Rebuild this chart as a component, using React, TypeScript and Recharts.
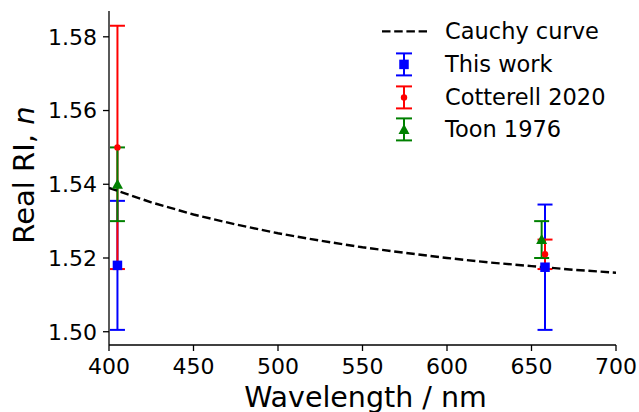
import React from 'react';
import { ComposedChart, Line, Scatter, ErrorBar, XAxis, YAxis, Legend, Label } from 'recharts';

const FONT = '"DejaVu Sans", Verdana, sans-serif';

// Cauchy curve
const cauchyWavelength = [400, 425, 450, 475, 500, 525, 550, 575, 600, 625, 650, 675, 700];
const cauchyN = [1.539, 1.5351, 1.5318, 1.5291, 1.5267, 1.5247, 1.5229, 1.5214, 1.52, 1.5188, 1.5178, 1.5168, 1.516];

// This work
const thisWorkWavelength = [405, 658];
const thisWorkN = [1.518, 1.5175];
const thisWorkErr = [0.0175, 0.017];

// Cotterell 2020
const cotterellWavelength = [405, 658];
const cotterellN = [1.55, 1.521];
const cotterellErr = [0.033, 0.004];

// Toon 1976
const toonWavelength = [405, 656];
const toonN = [1.54, 1.525];
const toonErr = [0.01, 0.005];

const xTicks = [400, 450, 500, 550, 600, 650, 700];
const yTicks = [1.5, 1.52, 1.54, 1.56, 1.58];
const xDomain = [400, 700];
const yDomain = [1.4964, 1.587];

const BLUE = '#0000ff';
const RED = '#ff0000';
const GREEN = '#008000';

const zip = (xs: number[], ys: number[], es?: number[]) =>
  xs.map((x, i) => (es ? { x, y: ys[i], err: es[i] } : { x, y: ys[i] }));

const cauchyData = zip(cauchyWavelength, cauchyN);
const thisWorkData = zip(thisWorkWavelength, thisWorkN, thisWorkErr);
const cotterellData = zip(cotterellWavelength, cotterellN, cotterellErr);
const toonData = zip(toonWavelength, toonN, toonErr);

const drawMarker = (kind: string, cx: number, cy: number) => {
  if (kind === 'square') {
    return <rect x={cx - 4.75} y={cy - 4.75} width={9.5} height={9.5} fill={BLUE} stroke="none" />;
  }
  if (kind === 'circle') {
    return <circle cx={cx} cy={cy} r={3.2} fill={RED} stroke="none" />;
  }
  return (
    <polygon
      points={`${cx},${cy - 5.5} ${cx - 5.5},${cy + 4.5} ${cx + 5.5},${cy + 4.5}`}
      fill={GREEN}
      stroke="none"
    />
  );
};

const SquareShape = (p: any) => drawMarker('square', p.cx, p.cy);
const CircleShape = (p: any) => drawMarker('circle', p.cx, p.cy);
const TriangleShape = (p: any) => drawMarker('triangle', p.cx, p.cy);

const legendItems = [
  { label: 'Cauchy curve', kind: 'line', color: '#000' },
  { label: 'This work', kind: 'square', color: BLUE },
  { label: 'Cotterell 2020', kind: 'circle', color: RED },
  { label: 'Toon 1976', kind: 'triangle', color: GREEN },
];

const renderLegend = () => (
  <div style={{ fontFamily: FONT, fontSize: 22.5, color: '#000' }}>
    {legendItems.map((it) => (
      <div key={it.label} style={{ display: 'flex', alignItems: 'center', height: 32.8 }}>
        <svg width={60} height={32.8} style={{ display: 'block' }}>
          {it.kind === 'line' ? (
            <line x1={7} y1={16.4} x2={52} y2={16.4} stroke="#000" strokeWidth={2.4} strokeDasharray="8.5 3.7" />
          ) : (
            <g stroke={it.color} strokeWidth={2}>
              <line x1={29} y1={5.4} x2={29} y2={27.4} />
              <line x1={21} y1={5.4} x2={37} y2={5.4} />
              <line x1={21} y1={27.4} x2={37} y2={27.4} />
              {drawMarker(it.kind, 29, 16.4)}
            </g>
          )}
        </svg>
        <span style={{ marginLeft: 10, whiteSpace: 'nowrap', lineHeight: '32.8px' }}>{it.label}</span>
      </div>
    ))}
  </div>
);

const YLabel = (props: any) => {
  const vb = props.viewBox || { x: 0, y: 0, width: 0, height: 0 };
  const x = vb.x + 24;
  const y = vb.y + vb.height / 2 - 3;
  return (
    <text
      x={x}
      y={y}
      dy="0.36em"
      transform={`rotate(-90, ${x}, ${y})`}
      textAnchor="middle"
      fontSize={29}
      fontFamily={FONT}
      fill="#000"
    >
      Real RI, <tspan fontStyle="italic">n</tspan>
    </text>
  );
};

const XLabel = (props: any) => {
  const vb = props.viewBox || { x: 0, y: 0, width: 0, height: 0 };
  const x = vb.x + vb.width / 2 + 3;
  const y = vb.y + vb.height - 5.5;
  return (
    <text x={x} y={y} textAnchor="middle" fontSize={28.5} fontFamily={FONT} fill="#000">
      Wavelength / nm
    </text>
  );
};

const tickStyle = { fontSize: 22, fontFamily: FONT, fill: '#000' };

export default function App() {
  return (
    <div style={{ position: 'absolute', left: 0, top: 0, width: 639, height: 412, background: '#fff' }}>
      <ComposedChart width={639} height={412} margin={{ top: 11, right: 23, bottom: 0, left: 0 }}>
        <XAxis
          dataKey="x"
          type="number"
          domain={xDomain}
          ticks={xTicks}
          allowDataOverflow
          height={67}
          tick={tickStyle}
          tickSize={6}
          tickMargin={7}
          stroke="#000"
          strokeWidth={1.3}
          tickLine={{ stroke: '#000', strokeWidth: 1.3 }}
        >
          <Label content={XLabel} />
        </XAxis>
        <XAxis
          xAxisId="top"
          orientation="top"
          dataKey="x"
          type="number"
          domain={xDomain}
          allowDataOverflow
          height={0}
          tick={false}
          tickLine={false}
          stroke="#000"
          strokeWidth={1.3}
        />
        <YAxis
          dataKey="y"
          type="number"
          domain={yDomain}
          ticks={yTicks}
          allowDataOverflow
          width={109}
          tick={tickStyle}
          tickFormatter={(v: number) => v.toFixed(2)}
          tickSize={6}
          tickMargin={6}
          stroke="#000"
          strokeWidth={1.3}
          tickLine={{ stroke: '#000', strokeWidth: 1.3 }}
        >
          <Label content={YLabel} />
        </YAxis>
        <YAxis
          yAxisId="right"
          orientation="right"
          dataKey="y"
          type="number"
          domain={yDomain}
          allowDataOverflow
          width={0}
          tick={false}
          tickLine={false}
          stroke="#000"
          strokeWidth={1.3}
        />
        <Legend
          layout="vertical"
          align="center"
          verticalAlign="middle"
          content={renderLegend}
          wrapperStyle={{ left: 375, top: 15, width: 'auto' }}
        />
        <Scatter data={thisWorkData} fill={BLUE} shape={SquareShape} isAnimationActive={false}>
          <ErrorBar dataKey="err" direction="y" width={7.5} stroke={BLUE} strokeWidth={2} />
        </Scatter>
        <Scatter data={cotterellData} fill={RED} shape={CircleShape} isAnimationActive={false}>
          <ErrorBar dataKey="err" direction="y" width={7.5} stroke={RED} strokeWidth={2} />
        </Scatter>
        <Scatter data={toonData} fill={GREEN} shape={TriangleShape} isAnimationActive={false}>
          <ErrorBar dataKey="err" direction="y" width={7.5} stroke={GREEN} strokeWidth={2} />
        </Scatter>
        <Line
          data={cauchyData}
          dataKey="y"
          type="linear"
          stroke="#000"
          strokeWidth={2.4}
          strokeDasharray="8.5 3.7"
          dot={false}
          activeDot={false}
          isAnimationActive={false}
        />
      </ComposedChart>
    </div>
  );
}
